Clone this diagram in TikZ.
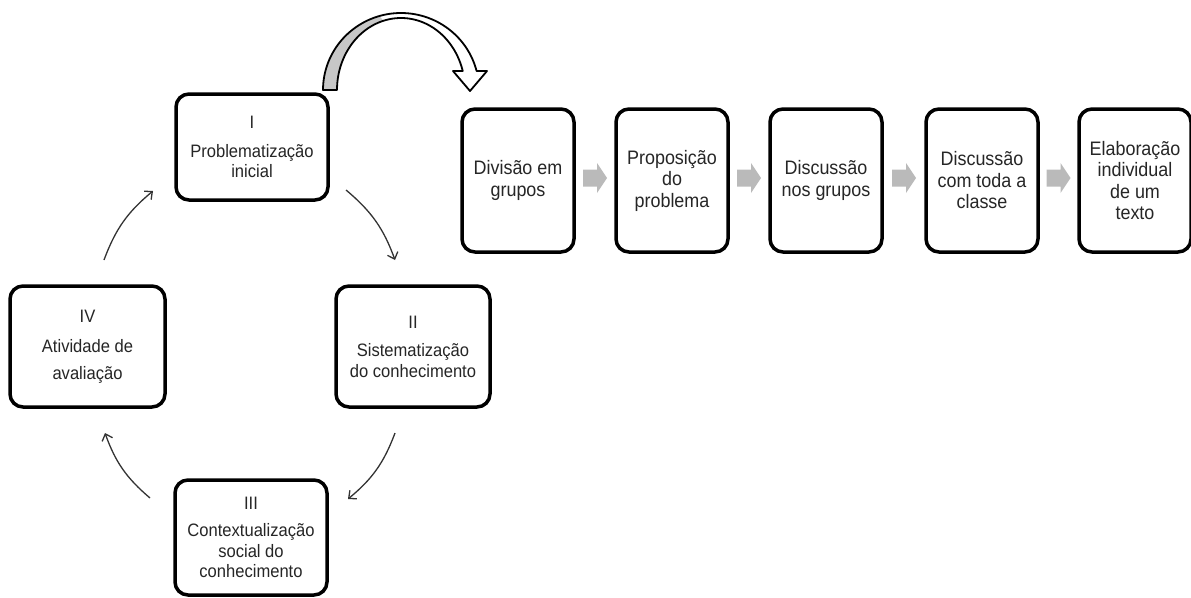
\documentclass[tikz,border=0pt]{standalone}
\usepackage{fontspec}
\setmainfont{Liberation Sans}[FakeStretch=0.92]
\usetikzlibrary{arrows.meta,calc}
\begin{document}
\begin{tikzpicture}[x=1pt,y=-1pt,
  box/.style={draw=black, line width=3.5pt, rounded corners=13pt, fill=white, align=center, inner sep=0pt, text=black!85},
  leftbox/.style={box, font=\fontsize{18}{20.5}\selectfont},
  rightbox/.style={box, font=\fontsize{19.5}{21.5}\selectfont, minimum width=112pt, minimum height=143pt},
  cyc/.style={draw=black!80, line width=1.3pt, -{Straight Barb[length=6pt,width=11pt]}},
  blockfill/.style={fill=black!27}]
\useasboundingbox (0,0) rectangle (1191,597);

% cycle boxes
\node[leftbox, minimum width=152pt, minimum height=106pt] (p1) at (252,147) {I\\[8pt]Problematização\\inicial};
\node[leftbox, minimum width=154pt, minimum height=121pt] (p2) at (413,346.5) {II\\[8pt]Sistematização\\do conhecimento};
\node[leftbox, minimum width=152pt, minimum height=115pt] (p3) at (251,537.5) {III\\[7pt]Contextualização\\social do\\conhecimento};
\node[leftbox, minimum width=155pt, minimum height=121pt] (p4) at (87.5,346.5) {IV\\[9pt]Atividade de\\[6.5pt]avaliação};

% cycle arrows
\coordinate (a1s) at (346,190); \coordinate (a1e) at (395,260);
\coordinate (a2s) at (395,433); \coordinate (a2e) at (348,499);
\coordinate (a3s) at (150,498); \coordinate (a3e) at (105,433);
\coordinate (a4s) at (104,260); \coordinate (a4e) at (153,191);
\draw[cyc] (a1s) to[bend left=15] (a1e);
\draw[cyc] (a2s) to[bend left=15] (a2e);
\draw[cyc] (a3s) to[bend left=15] (a3e);
\draw[cyc] (a4s) to[bend left=15] (a4e);

% sequence boxes
\node[rightbox] (r1) at (518,180.5) {Divisão em\\grupos};
\node[rightbox] (r2) at (672,180.5) {Proposição\\do\\problema};
\node[rightbox] (r3) at (826,180.5) {Discussão\\nos grupos};
\node[rightbox] (r4) at (982,180.5) {Discussão\\com toda a\\classe};
\node[rightbox] (r5) at (1135,180.5) {Elaboração\\individual\\de um\\texto};

% block arrows between the sequence boxes
\coordinate (g1) at ($(r1.east)!0.5!(r2.west)+(0,-2.5)$);
\coordinate (g2) at ($(r2.east)!0.5!(r3.west)+(0,-2.5)$);
\coordinate (g3) at ($(r3.east)!0.5!(r4.west)+(0,-2.5)$);
\coordinate (g4) at ($(r4.east)!0.5!(r5.west)+(0,-2.5)$);
\foreach \g in {g1,g2,g3,g4}{
  \fill[blockfill] (\g) ++(-12,-8.5) -- ++(14,0) -- ++(0,-6.5) -- ++(10,15) -- ++(-10,15) -- ++(0,-6.5) -- ++(-14,0) -- cycle;
}

% big curved arrow
\fill[black!22] plot[domain=180:106, samples=40] ({401+78*cos(\x)},{90-77*sin(\x)})
  -- plot[domain=106:180, samples=40] ({401+64*cos(\x)},{90-72*sin(\x)}) -- cycle;
\draw[black, line width=1.8pt, line join=round]
  plot[domain=180:14.3, samples=80] ({401+78*cos(\x)},{90-77*sin(\x)})
  -- (487,71) -- (470,91) -- (453,71) -- (462.7,71)
  -- plot[domain=15.3:180, samples=80] ({401+64*cos(\x)},{90-72*sin(\x)}) -- cycle;
\end{tikzpicture}
\end{document}
